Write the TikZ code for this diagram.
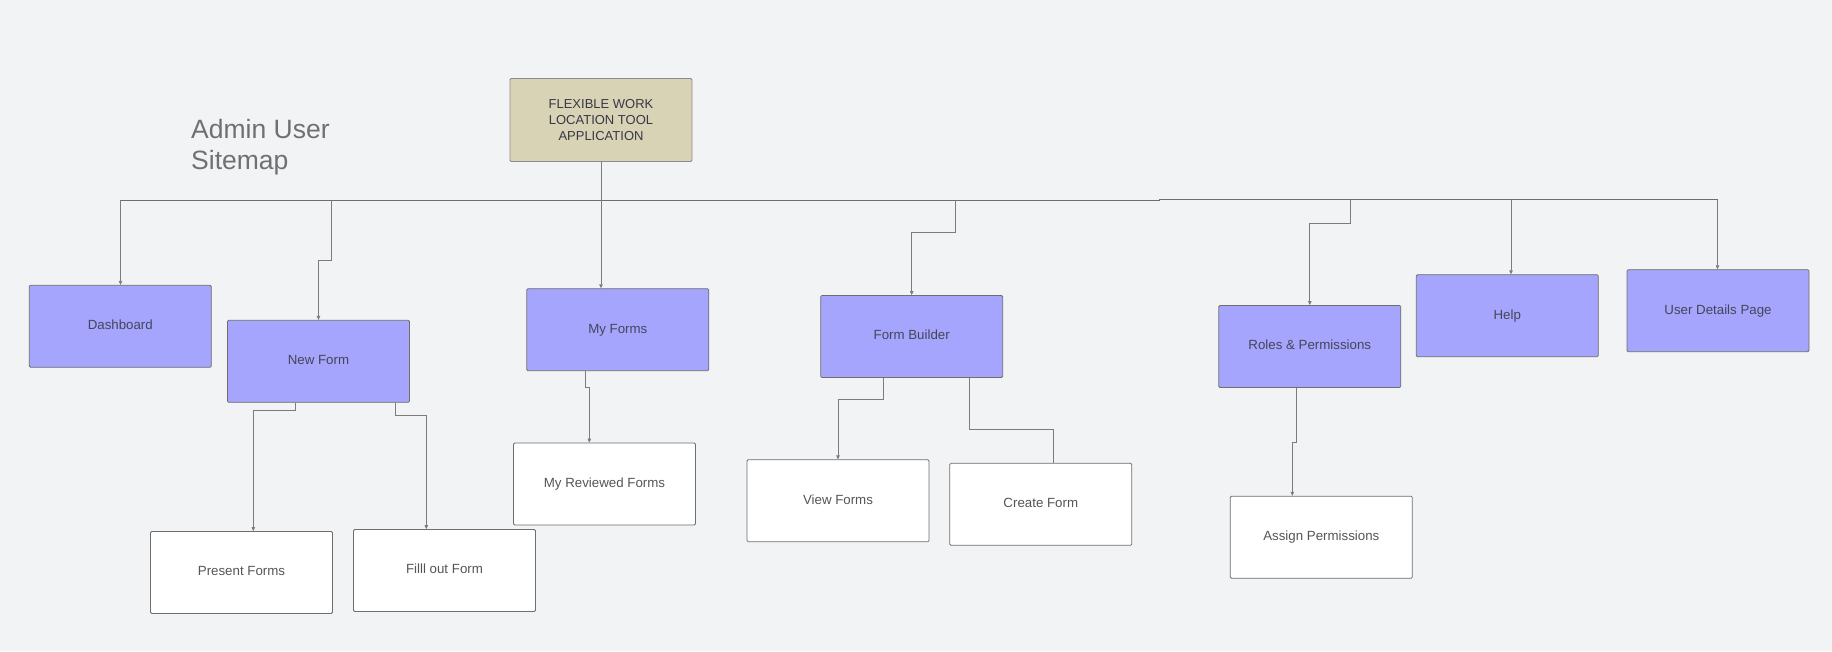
\documentclass[tikz,border=0pt]{standalone}
\usepackage{fontspec}
\setmainfont{Liberation Sans}
\usetikzlibrary{arrows.meta}
\definecolor{bg}{HTML}{F2F3F5}
\definecolor{purp}{HTML}{A5A5FD}
\definecolor{tan}{HTML}{D9D3B5}
\definecolor{edge}{HTML}{6E6E6E}
\definecolor{wire}{HTML}{7C7C7C}
\definecolor{ptext}{HTML}{45455A}
\definecolor{wtext}{HTML}{555555}
\definecolor{ttext}{HTML}{707070}
\tikzset{
  box/.style={draw=edge, line width=0.8pt, rounded corners=1.2pt, minimum width=182pt, minimum height=82pt, inner sep=0pt, font=\fontsize{13.3}{16}\selectfont},
  pbox/.style={box, fill=purp, text=ptext, text height=9.6pt, text depth=3pt},
  wbox/.style={box, fill=white, text=wtext, text height=9.6pt, text depth=3pt},
  rbox/.style={box, draw=edge!80, fill=tan, text=ptext!80!black, minimum height=83pt, align=center, font=\fontsize{13}{16}\selectfont},
  wireline/.style={draw=wire, line width=0.7pt},
  arr/.style={wireline, -{Triangle[length=4pt,width=3.5pt]}},
  bus/.style={draw=edge, line width=1pt},
}
\begin{document}
\begin{tikzpicture}[x=1pt,y=-1pt]
\fill[bg] (0,0) rectangle (1832,651);
\useasboundingbox (0,0) rectangle (1832,651);

\node[anchor=north west, inner sep=0pt, align=left, text=ttext, font=\fontsize{26.5}{31}\selectfont] (title) at (191,118.6) {Admin User\\Sitemap};

\node[rbox] (root) at (601,120) {FLEXIBLE WORK\\LOCATION TOOL\\APPLICATION};

\node[pbox] (dash) at (120.3,326.3) {Dashboard};
\node[pbox] (newform) at (318.5,361.3) {New Form};
\node[pbox] (myforms) at (617.8,329.7) {My Forms};
\node[pbox] (fb) at (911.7,336.5) {Form Builder};
\node[pbox] (roles) at (1309.8,346.5) {Roles \& Permissions};
\node[pbox] (help) at (1507.3,315.7) {Help};
\node[pbox] (user) at (1718,310.7) {User Details Page};

\node[wbox] (present) at (241.5,572.5) {Present Forms};
\node[wbox] (fill) at (444.5,570.5) {Filll out Form};
\node[wbox] (reviewed) at (604.5,484) {My Reviewed Forms};
\node[wbox] (view) at (838,500.8) {View Forms};
\node[wbox] (create) at (1040.8,504.3) {Create Form};
\node[wbox] (assign) at (1321.3,537.2) {Assign Permissions};

\coordinate (busL) at (120.5,200);
\coordinate (busStep) at (1159,200);
\coordinate (busR) at (1717.5,199.5);
\coordinate (tapNF) at (331.5,200);
\coordinate (tapFB) at (955.5,200);
\coordinate (tapRP) at (1350,199.5);
\coordinate (tapHelp) at (1511,199.5);

\draw[bus] (busL) -- (busStep) -- ++(0,-0.5) -- (busR);

\draw[arr] (busL) -- (busL |- dash.north);
\draw[arr] (tapNF) -- ++(0,60) -| (newform.north);
\draw[arr] (root.south) -- (root.south |- myforms.north);
\draw[arr] (tapFB) -- ++(0,32) -| (fb.north);
\draw[arr] (tapRP) -- ++(0,23.5) -| (roles.north);
\draw[arr] (tapHelp) -- (tapHelp |- help.north);
\draw[arr] (busR) -- (busR |- user.north);

\draw[arr] ([xshift=-23.1pt]newform.south) -- ++(0,7.3) -| ([xshift=11.8pt]present.north);
\draw[arr] ([xshift=76.5pt]newform.south) -- ++(0,12.3) -| ([xshift=-18.2pt]fill.north);
\draw[arr] ([xshift=-32.5pt]myforms.south) -- ++(0,16.3) -| ([xshift=-15.2pt]reviewed.north);
\draw[arr] ([xshift=-28.2pt]fb.south) -- ++(0,21) -| (view.north);
\draw[wireline] ([xshift=57.7pt]fb.south) -- ++(0,51.3) -| ([xshift=12.2pt]create.north);
\draw[arr] ([xshift=-13.3pt]roles.south) -- ++(0,54) -| ([xshift=-29pt]assign.north);
\end{tikzpicture}
\end{document}
